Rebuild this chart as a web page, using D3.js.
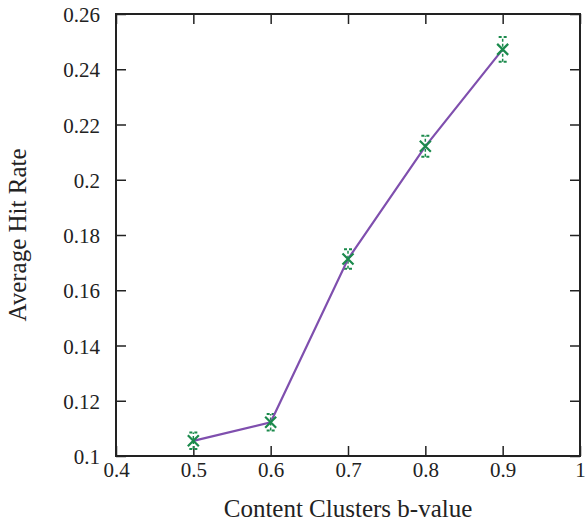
<!DOCTYPE html>
<html>
<head>
<meta charset="utf-8">
<script src="https://cdn.jsdelivr.net/npm/d3@7/dist/d3.min.js"></script>
<style>
  body { margin: 0; background: #fff; }
  text { font-family: "Liberation Serif", "Times New Roman", serif; fill: #222; }
</style>
</head>
<body>
<script>
var bValues = [0.5, 0.6, 0.7, 0.8, 0.9],
    hitRate = [0.1055, 0.1122, 0.1713, 0.2121, 0.2472],
    hitErr  = [0.003, 0.003, 0.0035, 0.0038, 0.0045];

var xTicks = [0.4, 0.5, 0.6, 0.7, 0.8, 0.9, 1],
    yTicks = [0.1, 0.12, 0.14, 0.16, 0.18, 0.2, 0.22, 0.24, 0.26];

var width = 587, height = 524,
    margin = {top: 14, right: 7, bottom: 68, left: 116};

var x = d3.scaleLinear().domain([0.4, 1]).range([margin.left, width - margin.right]);
var y = d3.scaleLinear().domain([0.1, 0.26]).range([height - margin.bottom, margin.top]);

var fmt = function(d) { return String(+d.toFixed(2)); };

var svg = d3.select("body").append("svg")
    .attr("width", width)
    .attr("height", height);

// axes, ticks pointing inward, mirrored on top/right
function styleAxis(g) {
  g.select(".domain").remove();
  g.selectAll(".tick line").attr("stroke", "#222").attr("stroke-width", 1.5);
  g.selectAll(".tick text").style("font-size", "21px").attr("fill", "#222");
}

svg.append("g")
    .attr("transform", "translate(0," + y.range()[0] + ")")
    .call(d3.axisBottom(x).tickValues(xTicks).tickFormat(fmt).tickSizeInner(-10).tickPadding(6))
    .call(styleAxis);

svg.append("g")
    .attr("transform", "translate(0," + y.range()[1] + ")")
    .call(d3.axisTop(x).tickValues(xTicks).tickFormat("").tickSizeInner(-10))
    .call(styleAxis);

svg.append("g")
    .attr("transform", "translate(" + x.range()[0] + ",0)")
    .call(d3.axisLeft(y).tickValues(yTicks).tickFormat(fmt).tickSizeInner(-10).tickPadding(16))
    .call(styleAxis)
    .selectAll(".tick text").attr("dy", "0.36em");

svg.append("g")
    .attr("transform", "translate(" + x.range()[1] + ",0)")
    .call(d3.axisRight(y).tickValues(yTicks).tickFormat("").tickSizeInner(-10))
    .call(styleAxis);

svg.append("rect")
    .attr("x", x.range()[0])
    .attr("y", y.range()[1])
    .attr("width", x.range()[1] - x.range()[0])
    .attr("height", y.range()[0] - y.range()[1])
    .attr("fill", "none")
    .attr("stroke", "#222")
    .attr("stroke-width", 2);

var pts = bValues.map(function(b, i) { return {b: b, v: hitRate[i], e: hitErr[i]}; });

// error bars
var green = "#1b8a4c";
var eb = svg.append("g").selectAll("g").data(pts).enter().append("g");
eb.append("line")
    .attr("x1", function(d) { return x(d.b); })
    .attr("x2", function(d) { return x(d.b); })
    .attr("y1", function(d) { return y(d.v - d.e); })
    .attr("y2", function(d) { return y(d.v + d.e); })
    .attr("stroke", green).attr("stroke-width", 1.5)
    .attr("stroke-dasharray", "3,2");
[-1, 1].forEach(function(s) {
  eb.append("line")
      .attr("x1", function(d) { return x(d.b) - 4; })
      .attr("x2", function(d) { return x(d.b) + 4; })
      .attr("y1", function(d) { return y(d.v + s * d.e); })
      .attr("y2", function(d) { return y(d.v + s * d.e); })
      .attr("stroke", green).attr("stroke-width", 2)
      .attr("stroke-dasharray", "3,2");
});

// line
svg.append("path")
    .datum(pts)
    .attr("fill", "none")
    .attr("stroke", "#7f4fae")
    .attr("stroke-width", 2.2)
    .attr("d", d3.line().x(function(d) { return x(d.b); }).y(function(d) { return y(d.v); }));

// X markers
svg.append("g").selectAll("path").data(pts).enter().append("path")
    .attr("transform", function(d) { return "translate(" + x(d.b) + "," + y(d.v) + ")"; })
    .attr("d", "M-5.5,-5.5L5.5,5.5M-5.5,5.5L5.5,-5.5")
    .attr("stroke", green)
    .attr("stroke-width", 2.2);

svg.append("text")
    .attr("x", (x.range()[0] + x.range()[1]) / 2)
    .attr("y", 517)
    .attr("text-anchor", "middle")
    .style("font-size", "25px")
    .text("Content Clusters b-value");

svg.append("text")
    .attr("transform", "translate(26," + (y.range()[0] + y.range()[1]) / 2 + ")rotate(-90)")
    .attr("text-anchor", "middle")
    .style("font-size", "25px")
    .text("Average Hit Rate");
</script>
</body>
</html>
